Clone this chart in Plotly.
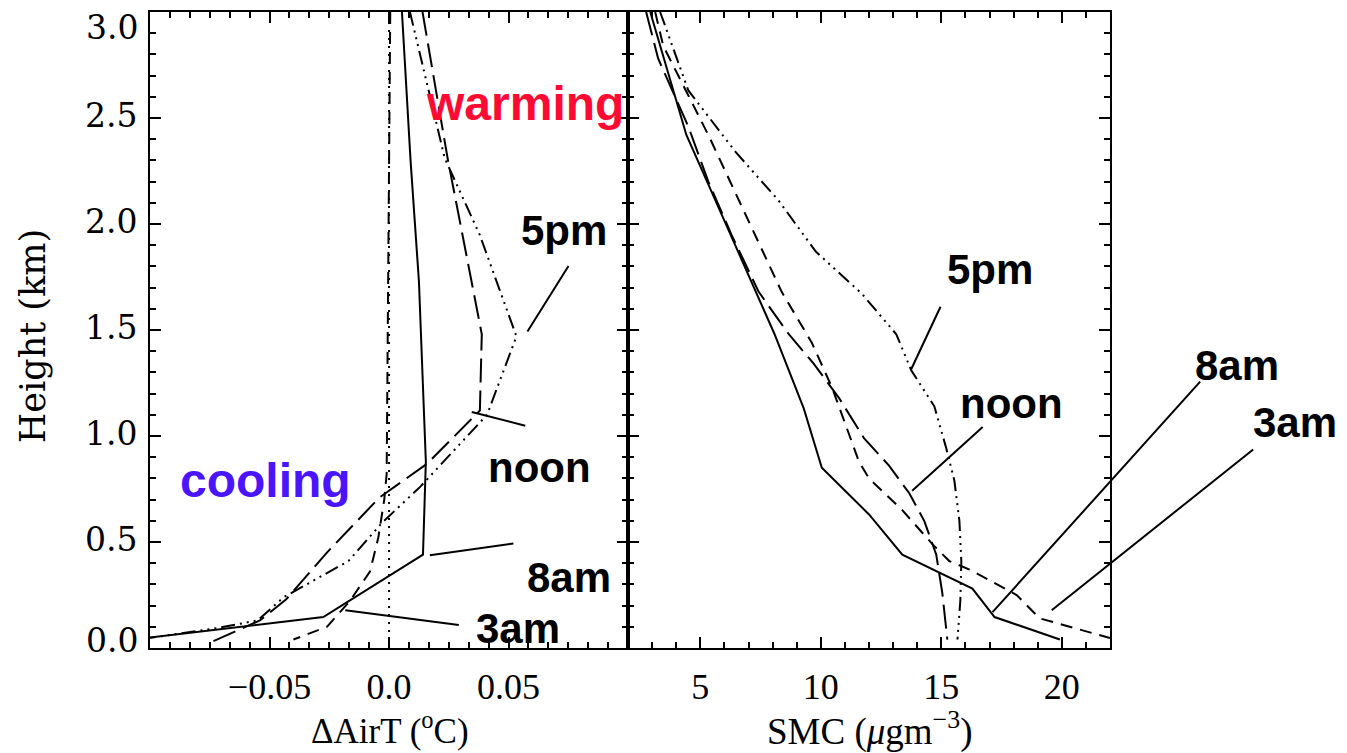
import plotly.graph_objects as go

# ---------------- data: left panel (Delta Air T, degC) ----------------
h_8am_T = [3.0, 2.3, 1.73, 0.88, 0.44, 0.146, 0.03]
t_8am = [0.0054, 0.009, 0.0125, 0.0154, 0.0142, -0.0275, -0.115]

h_noon_T = [3.0, 2.31, 1.48, 1.12, 0.87, 0.71, 0.45, 0.23, 0.13, 0.04, 0.02]
t_noon = [0.014, 0.0245, 0.0388, 0.038, 0.016, -0.004, -0.026, -0.043, -0.054, -0.0725, -0.076]

h_5pm_T = [3.0, 2.6, 2.31, 1.95, 1.47, 1.10, 0.76, 0.59, 0.41, 0.24, 0.13, 0.094, 0.04]
t_5pm = [0.00875, 0.0171, 0.0233, 0.0379, 0.0533, 0.041, 0.013, -0.003, -0.017, -0.044, -0.055, -0.072, -0.105]

h_3am_T = [3.0, 1.5, 0.82, 0.70, 0.52, 0.36, 0.22, 0.10, 0.04]
t_3am = [0.0005, -0.0005, -0.001, -0.002, -0.0045, -0.008, -0.0165, -0.026, -0.04]

zero_x = [0.0, 0.0]
zero_h = [0.0, 3.0]

# ---------------- data: right panel (SMC, ug m-3) ----------------
h_8am_S = [3.0, 2.42, 2.10, 1.48, 1.13, 0.85, 0.63, 0.44, 0.28, 0.146, 0.04]
s_8am = [2.92, 4.42, 5.67, 8.08, 9.29, 10.04, 12.0, 13.38, 16.29, 17.21, 19.92]

h_noon_S = [3.0, 2.78, 2.46, 2.2, 1.95, 1.68, 1.48, 1.34, 1.18, 0.99, 0.86, 0.73, 0.60, 0.44, 0.26, 0.04]
s_noon = [2.75, 3.25, 4.5, 5.33, 6.29, 7.42, 8.67, 9.71, 10.75, 11.79, 12.83, 13.67, 14.29, 14.79, 15.04, 15.25]

h_3am_S = [3.0, 2.84, 2.42, 1.68, 1.44, 1.23, 0.88, 0.80, 0.65, 0.49, 0.41, 0.37, 0.25, 0.14, 0.047]
s_3am = [3.125, 3.46, 5.33, 8.375, 9.625, 10.46, 11.58, 12.0, 13.38, 14.63, 15.33, 16.17, 18.125, 19.08, 22.0]

h_5pm_S = [3.0, 2.63, 2.34, 2.11, 1.87, 1.67, 1.48, 1.31, 1.14, 0.94, 0.79, 0.60, 0.41, 0.225, 0.04]
s_5pm = [3.33, 4.5, 6.46, 8.25, 9.79, 11.71, 13.13, 13.75, 14.71, 15.21, 15.54, 15.75, 15.83, 15.79, 15.67]

x_T_ticks = [-0.05, 0.0, 0.05]
x_T_ticktext = ["\u22120.05", "0.0", "0.05"]
x_S_ticks = [5, 10, 15, 20]
y_ticks = [0.0, 0.5, 1.0, 1.5, 2.0, 2.5, 3.0]
y_ticktext = ["", "0.5", "1.0", "1.5", "2.0", "2.5", ""]   # end labels placed separately
y_end_labels = ["0.0", "3.0"]

# ---------------- styles ----------------
LW = 2
DASH = {
    "3am": "12px,8px",
    "8am": "solid",
    "noon": "24px,8px",
    "5pm": "14px,5px,2px,5px,2px,5px,2px,5px",
    "zero": "2px,6px",
}

fig = go.Figure()

def add(x, y, key, xa, ya):
    fig.add_trace(go.Scatter(x=x, y=y, mode="lines", xaxis=xa, yaxis=ya,
                             line=dict(color="black", width=LW, dash=DASH[key]),
                             showlegend=False, hoverinfo="skip"))

add(zero_x, zero_h, "zero", "x", "y")
add(t_3am, h_3am_T, "3am", "x", "y")
add(t_8am, h_8am_T, "8am", "x", "y")
add(t_noon, h_noon_T, "noon", "x", "y")
add(t_5pm, h_5pm_T, "5pm", "x", "y")

add(s_3am, h_3am_S, "3am", "x2", "y2")
add(s_8am, h_8am_S, "8am", "x2", "y2")
add(s_noon, h_noon_S, "noon", "x2", "y2")
add(s_5pm, h_5pm_S, "5pm", "x2", "y2")

serif_y = "DejaVu Serif"
serif_x = "Liberation Serif"

common_axis = dict(showline=True, linecolor="black", linewidth=2, mirror="ticks",
                   ticks="inside", ticklen=11, tickwidth=1.5, tickcolor="black",
                   showgrid=False, zeroline=False)
minor_common = dict(ticks="inside", ticklen=6, tickwidth=1.5, tickcolor="black", showgrid=False)

# page body has an 8px margin: size and margins compensate for it
fig.update_layout(
    width=1339, height=745, autosize=False,
    margin=dict(l=142, r=237, t=2, b=105),
    plot_bgcolor="white", paper_bgcolor="white",
    xaxis=dict(domain=[0, 0.498], range=[-0.1, 0.1], anchor="y",
               tickmode="array", tickvals=x_T_ticks, ticktext=x_T_ticktext,
               tickfont=dict(family=serif_x, size=36, color="black"),
               ticklabelstandoff=6,
               minor=dict(dtick=0.05 / 6, tick0=0, **minor_common),
               **common_axis),
    xaxis2=dict(domain=[0.498, 1], range=[2, 22], anchor="y2",
                tickmode="array", tickvals=x_S_ticks,
                tickfont=dict(family=serif_x, size=36, color="black"),
                ticklabelstandoff=6,
                minor=dict(dtick=1, tick0=0, **minor_common),
                **common_axis),
    yaxis=dict(domain=[0, 1], range=[0, 3], anchor="x",
               tickmode="array", tickvals=y_ticks, ticktext=y_ticktext,
               tickfont=dict(family=serif_y, size=33, color="black"),
               ticklabelstandoff=4, ticklabelshift=-3,
               minor=dict(dtick=0.1, tick0=0, **minor_common),
               **common_axis),
    yaxis2=dict(domain=[0, 1], range=[0, 3], anchor="x2",
                tickmode="array", tickvals=y_ticks,
                showticklabels=False,
                minor=dict(dtick=0.1, tick0=0, **minor_common),
                **common_axis),
)

anns = []
# end labels of the height axis (nudged inside the frame, as in the original)
anns.append(dict(text=y_end_labels[0], xref="paper", yref="y", x=0, y=0.0,
                 xanchor="right", yanchor="middle", xshift=-10, yshift=8, showarrow=False,
                 font=dict(family=serif_y, size=33, color="black")))
anns.append(dict(text=y_end_labels[1], xref="paper", yref="y", x=0, y=3.0,
                 xanchor="right", yanchor="middle", xshift=-10, yshift=-15, showarrow=False,
                 font=dict(family=serif_y, size=33, color="black")))
# axis titles
anns.append(dict(text="\u0394AirT (<sup>o</sup>C)", xref="paper", yref="paper",
                 x=0.25, y=-0.127, showarrow=False, xanchor="center", yanchor="middle",
                 font=dict(family=serif_x, size=35, color="black")))
anns.append(dict(text="SMC (<i>\u03bc</i>gm<sup>\u22123</sup>)", xref="paper", yref="paper",
                 x=0.749, y=-0.127, showarrow=False, xanchor="center", yanchor="middle",
                 font=dict(family=serif_x, size=37, color="black")))
anns.append(dict(text="Height (km)", xref="paper", yref="paper",
                 x=-0.121, y=0.49, showarrow=False, textangle=-90,
                 xanchor="center", yanchor="middle",
                 font=dict(family=serif_y, size=35, color="black")))

lab_font = dict(family="Liberation Sans", size=42, color="black")
big_font_r = dict(family="Liberation Sans", size=48, color="#ff0a33")
big_font_b = dict(family="Liberation Sans", size=48, color="#4a14ff")

def label(text, x, y, xref, yref, font):
    anns.append(dict(text="<b>%s</b>" % text, x=x, y=y, xref=xref, yref=yref,
                     showarrow=False, xanchor="center", yanchor="middle", font=font))

label("warming", 0.0567, 2.57, "x", "y", big_font_r)
label("cooling", -0.0517, 0.79, "x", "y", big_font_b)
label("5pm", 0.0733, 1.97, "x", "y", lab_font)
label("noon", 0.0629, 0.85, "x", "y", lab_font)
label("8am", 0.0754, 0.333, "x", "y", lab_font)
label("3am", 0.0538, 0.094, "x", "y", lab_font)
label("5pm", 17.0, 1.784, "x2", "y2", lab_font)
label("noon", 17.92, 1.155, "x2", "y2", lab_font)
label("8am", 1.132, 0.4436, "paper", "paper", lab_font)
label("3am", 1.193, 0.355, "paper", "paper", lab_font)

def pointer(x, y, xref, yref, ax, ay):
    anns.append(dict(text="", x=x, y=y, xref=xref, yref=yref, showarrow=True,
                     arrowhead=0, arrowwidth=2, arrowcolor="black",
                     ax=ax, ay=ay, standoff=0, startstandoff=0))

pointer(0.0579, 1.493, "x", "y", 42, -67)
pointer(0.0346, 1.113, "x", "y", 55, 14)
pointer(0.0171, 0.437, "x", "y", 85, -12)
pointer(-0.0183, 0.178, "x", "y", 115, 15)
pointer(13.75, 1.315, "x2", "y2", 30, -64)
pointer(13.79, 0.742, "x2", "y2", 72, -65)
pointer(17.125, 0.169, "x2", "y2", 209, -232)
pointer(19.58, 0.178, "x2", "y2", 203, -162)

fig.update_layout(annotations=anns)
fig.write_html("out.html")
